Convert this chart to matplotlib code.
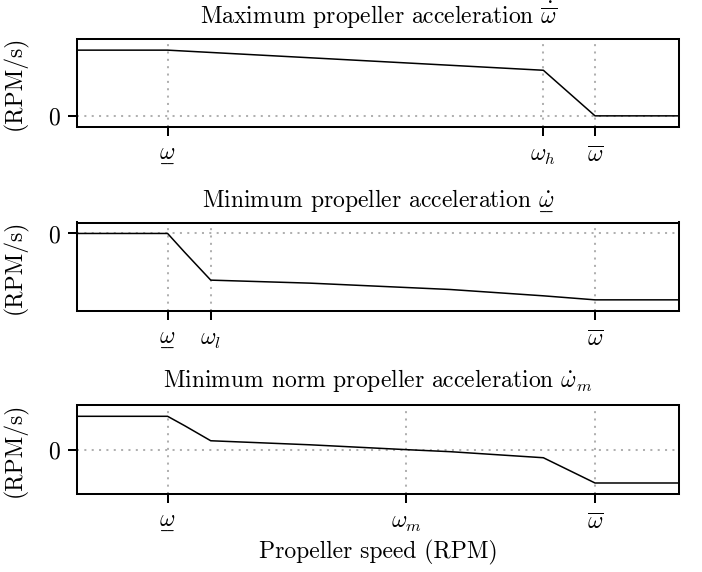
import matplotlib
matplotlib.use("Agg")
import matplotlib.pyplot as plt

plt.rcParams["font.family"] = "serif"
plt.rcParams["font.serif"] = ["cmr10"]
plt.rcParams["mathtext.fontset"] = "cm"
plt.rcParams["axes.formatter.use_mathtext"] = True
plt.rcParams["font.size"] = 17

# characteristic speeds (RPM)
w_min = 1900
w_l = 2330
w_m = 4280
w_h = 5645
w_max = 6160
speed_range = (1000, 7000)

# maximum acceleration
max_speed = [1000, 1900, 5645, 6160, 7000]
max_acc = [663, 663, 460, 0, 0]

# minimum acceleration
min_speed = [1000, 1900, 2070, 2330, 3320, 4715, 5645, 6160, 7000]
min_acc = [0, 0, -187, -464, -494, -557, -620, -660, -660]

# minimum norm acceleration
norm_speed = [1000, 1900, 2070, 2330, 3320, 4280, 4715, 5645, 6160, 7000]
norm_acc = [330, 330, 237, 88, 48, 0, -20, -80, -330, -330]

lbl_min = r"$\underset{\_\!\_}{\omega}$"
lbl_max = r"$\overline{\omega}$"

panels = [
    (max_speed, max_acc, r"Maximum propeller acceleration $\dot{\overline{\omega}}$",
     [w_min, w_h, w_max], [lbl_min, r"$\omega_h$", lbl_max]),
    (min_speed, min_acc, r"Minimum propeller acceleration $\dot{\underset{\_\!\_}{\omega}}$",
     [w_min, w_l, w_max], [lbl_min, r"$\omega_l$", lbl_max]),
    (norm_speed, norm_acc, r"Minimum norm propeller acceleration $\dot{\omega}_m$",
     [w_min, w_m, w_max], [lbl_min, r"$\omega_m$", lbl_max]),
]
title_pads = [10.8, 10.8, 13.0]

# axes boxes in pixels (left, top, right, bottom)
W, H = 702, 572
boxes = [(77.3, 39.3, 679.3, 126.7), (77.3, 222.5, 679.3, 310.8), (77.3, 405.3, 679.3, 494.0)]

fig = plt.figure(figsize=(W / 100, H / 100), dpi=100)

for (xs, ys, title, ticks, labels), (l, t, r, b), tpad in zip(panels, boxes, title_pads):
    ax = fig.add_axes([l / W, 1 - b / H, (r - l) / W, (b - t) / H])
    ax.plot(xs, ys, color="black", lw=1.1, zorder=3)
    ax.set_xlim(*speed_range)
    ax.margins(y=0.165)
    ax.set_xticks(ticks)
    ax.set_xticklabels(labels)
    ax.set_yticks([0])
    ax.set_yticklabels(["0"])
    ax.grid(True, ls=(0, (1, 2.65)), color="#b0b0b0", lw=1.45)
    for s in ax.spines.values():
        s.set_linewidth(1.45)
    ax.tick_params(axis="both", length=6.8, width=1.45)
    ax.tick_params(axis="x", pad=6.2)
    ax.tick_params(axis="y", pad=5.8)
    ax.set_title(title, pad=tpad, fontsize=17)
    ax.set_ylabel("(RPM/s)")
    ax.yaxis.set_label_coords(-0.082, 0.5)

ax.set_xlabel("Propeller speed (RPM)")
ax.xaxis.label.set_va("baseline")
ax.xaxis.set_label_coords(0.5, -(558.3 - 494.0) / (494.0 - 405.3))

fig.savefig("out.png", dpi=100)
